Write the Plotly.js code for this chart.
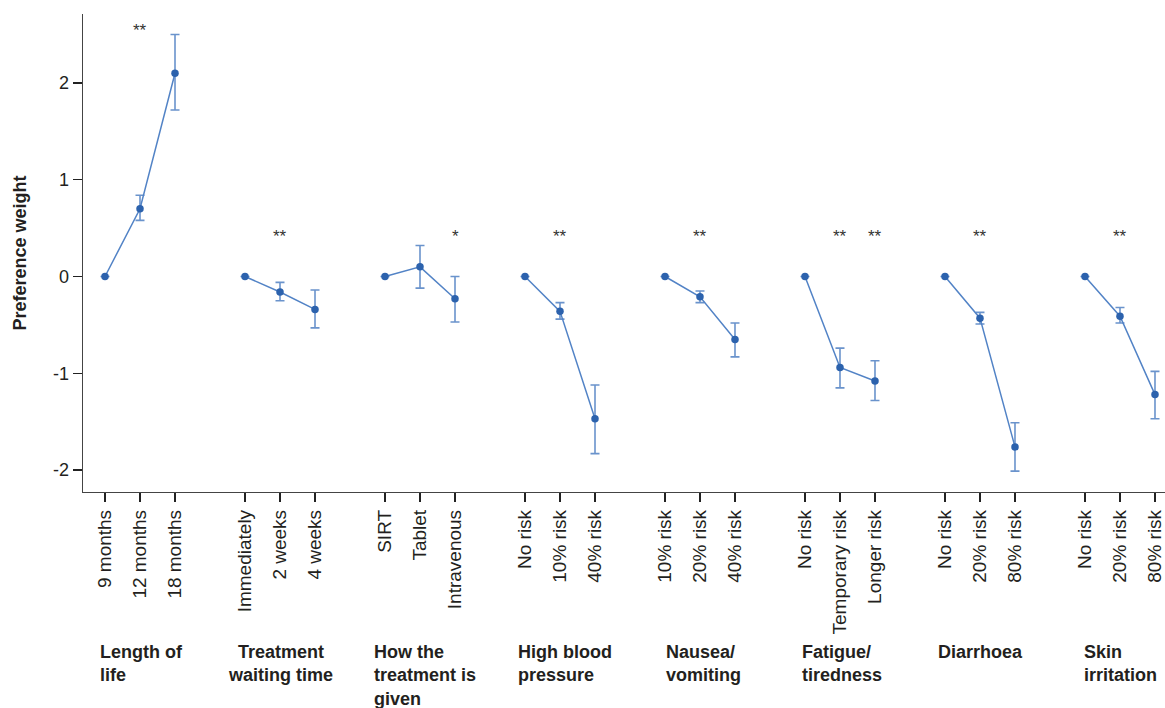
<!DOCTYPE html>
<html>
<head>
<meta charset="utf-8">
<script src="https://cdn.plot.ly/plotly-3.0.1.min.js"></script>
<style>
  html, body { margin: 0; padding: 0; background: #fff; }
  #chart { width: 1165px; height: 708px; }
</style>
</head>
<body>
<div id="chart"></div>
<script>
// ---- Data ----
const attributes = [
  "Length of<br>life",
  "Treatment<br>waiting time",
  "How the<br>treatment is<br>given",
  "High blood<br>pressure",
  "Nausea/<br>vomiting",
  "Fatigue/<br>tiredness",
  "Diarrhoea",
  "Skin<br>irritation"
];
const levels = [
  "9 months", "12 months", "18 months",
  "Immediately", "2 weeks", "4 weeks",
  "SIRT", "Tablet", "Intravenous",
  "No risk", "10% risk", "40% risk",
  "10% risk", "20% risk", "40% risk",
  "No risk", "Temporary risk", "Longer risk",
  "No risk", "20% risk", "80% risk",
  "No risk", "20% risk", "80% risk"
];
const levelAttribute = [0,0,0, 1,1,1, 2,2,2, 3,3,3, 4,4,4, 5,5,5, 6,6,6, 7,7,7];
const weights = [
  0, 0.70, 2.10,
  0, -0.16, -0.34,
  0, 0.10, -0.23,
  0, -0.36, -1.47,
  0, -0.21, -0.65,
  0, -0.94, -1.08,
  0, -0.43, -1.76,
  0, -0.41, -1.22
];
const ciLow = [
  null, 0.58, 1.72,
  null, -0.25, -0.53,
  null, -0.12, -0.47,
  null, -0.44, -1.83,
  null, -0.27, -0.83,
  null, -1.15, -1.28,
  null, -0.49, -2.01,
  null, -0.48, -1.47
];
const ciHigh = [
  null, 0.84, 2.50,
  null, -0.06, -0.14,
  null, 0.32, 0.00,
  null, -0.27, -1.12,
  null, -0.15, -0.48,
  null, -0.74, -0.87,
  null, -0.37, -1.51,
  null, -0.32, -0.98
];
const significance = [
  "", "**", "",
  "", "**", "",
  "", "", "*",
  "", "**", "",
  "", "**", "",
  "", "**", "**",
  "", "**", "",
  "", "**", ""
];

// ---- Layout helpers ----
const FONT = "Liberation Sans, Arial, sans-serif";
const TXT = "#231f20";
const MARK = "#2c62ad";
const LINE = "#5283c6";
const ERR = "#6a93cc";

// x position of each level: 3 levels per attribute plus one empty slot between attributes
const xpos = levels.map((_, i) => levelAttribute[i] * 4 + (i - levelAttribute.indexOf(levelAttribute[i])));

const traces = attributes.map((a, g) => {
  const idx = levels.map((_, i) => i).filter(i => levelAttribute[i] === g);
  return {
    type: "scatter",
    mode: "lines+markers",
    x: idx.map(i => xpos[i]),
    y: idx.map(i => weights[i]),
    line: { color: LINE, width: 1.5 },
    marker: { color: MARK, size: 7.5 },
    error_y: {
      type: "data",
      symmetric: false,
      array: idx.map(i => ciHigh[i] === null ? null : ciHigh[i] - weights[i]),
      arrayminus: idx.map(i => ciLow[i] === null ? null : weights[i] - ciLow[i]),
      color: ERR,
      thickness: 1.6,
      width: 4.5
    },
    showlegend: false,
    hoverinfo: "x+y"
  };
});

const annotations = [];
// significance stars
levels.forEach((_, i) => {
  if (significance[i]) {
    annotations.push({
      x: xpos[i], y: levelAttribute[i] === 0 ? 2.54 : 0.41,
      xref: "x", yref: "y",
      text: significance[i], showarrow: false,
      xanchor: "center", yanchor: "middle",
      font: { family: FONT, size: 17, color: "#333" }
    });
  }
});
// attribute labels
const labelShift = [-5, 0, -11, -7, 1, -3, -7, -1];
attributes.forEach((a, g) => {
  const centered = g === 1;
  annotations.push({
    x: centered ? g * 4 + 1 : g * 4,
    y: -0.31,
    xref: "x", yref: "paper",
    text: "<b>" + a + "</b>",
    showarrow: false,
    xanchor: centered ? "center" : "left",
    yanchor: "top",
    align: centered ? "center" : "left",
    xshift: centered ? 0 : labelShift[g] - 2,
    font: { family: FONT, size: 18, color: TXT }
  });
});

const layout = {
  width: 1165, height: 708,
  margin: { l: 83, r: 0, t: 14, b: 216 },
  paper_bgcolor: "#fff", plot_bgcolor: "#fff",
  font: { family: FONT, color: TXT, size: 18 },
  xaxis: {
    range: [-0.6286, 30.286],
    tickmode: "array",
    tickvals: xpos,
    ticktext: levels,
    tickangle: -90,
    ticklabeloverflow: "allow",
    ticks: "outside", ticklen: 9, tickwidth: 1.5, tickcolor: "#222",
    showline: true, linecolor: "#444", linewidth: 1.3,
    showgrid: false, zeroline: false,
    tickfont: { family: FONT, size: 19, color: TXT }
  },
  yaxis: {
    range: [-2.226, 2.712],
    tickvals: [-2, -1, 0, 1, 2],
    ticktext: ["-2", "-1", "0", "1", "2"],
    ticks: "outside", ticklen: 9, tickwidth: 1.5, tickcolor: "#222",
    showline: true, linecolor: "#444", linewidth: 1.3,
    showgrid: false, zeroline: false,
    tickfont: { family: FONT, size: 18, color: TXT },
    title: { text: "<b>Preference weight</b>", font: { family: FONT, size: 18, color: TXT }, standoff: 21 }
  },
  annotations: annotations
};

Plotly.newPlot("chart", traces, layout, { displayModeBar: false, staticPlot: true });
</script>
</body>
</html>
